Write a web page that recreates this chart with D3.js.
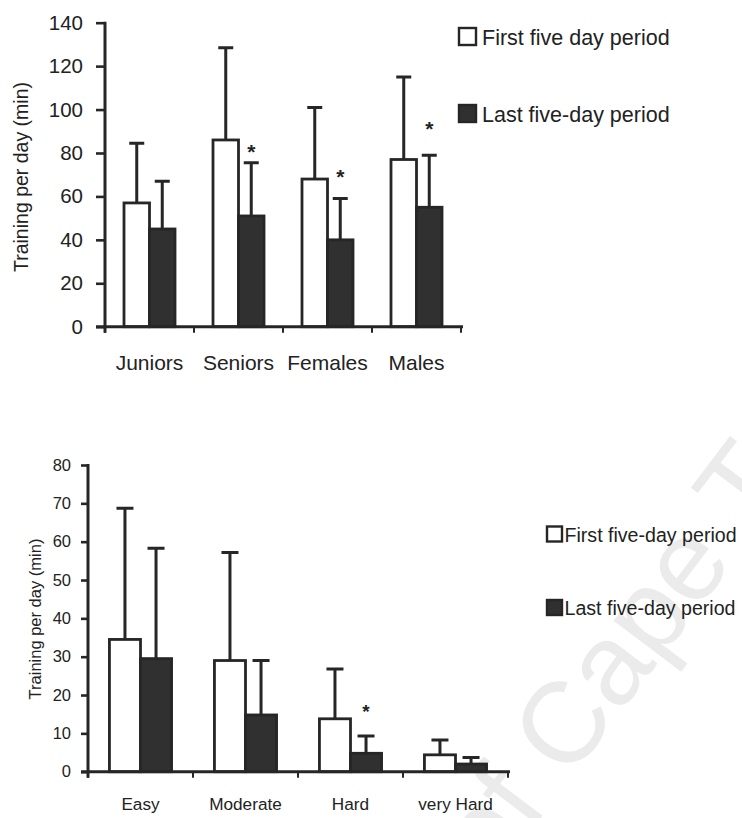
<!DOCTYPE html>
<html>
<head>
<meta charset="utf-8">
<script src="https://cdn.jsdelivr.net/npm/d3@7"></script>
<style>
  html, body { margin: 0; padding: 0; background: #fff; }
  svg { display: block; }
  text { font-family: "Liberation Sans", Arial, sans-serif; fill: #222; }
</style>
</head>
<body>
<svg id="chart" width="742" height="818"></svg>
<script>
// Panel A: training time per day by group (mean + SD)
const groups = ["Juniors", "Seniors", "Females", "Males"];
const groupFirst = [57, 86, 68, 77];
const groupFirstSD = [27.5, 42.5, 33, 38];
const groupLast = [45, 51, 40, 55];
const groupLastSD = [22, 24.5, 19, 24];
const groupSig = [null, 83, 71.5, 93.5];        // level of the "*" marker, null = none
const groupTicks = [0, 20, 40, 60, 80, 100, 120, 140];

// Panel B: training time per day by intensity (mean + SD)
const intensities = ["Easy", "Moderate", "Hard", "very Hard"];
const intensityFirst = [34.5, 29, 13.8, 4.4];
const intensityFirstSD = [34.2, 28.2, 13, 3.9];
const intensityLast = [29.5, 14.8, 4.8, 2.0];
const intensityLastSD = [28.8, 14.2, 4.5, 1.7];
const intensitySig = [null, null, 17, null];
const intensityTicks = [0, 10, 20, 30, 40, 50, 60, 70, 80];

const yTitle = "Training per day (min)";
const legendA = ["First five day period", "Last five-day period"];
const legendB = ["First five-day period", "Last five-day period"];
const periods = ["first", "last"];

const INK = "#262626";
const DARK = "#303030";

const svg = d3.select("#chart");

// faint background watermark
(function () {
  const g = svg.append("g")
    .attr("transform", "translate(492,883) rotate(-53)")
    .style("font-size", "115px");
  g.append("text").attr("text-anchor", "end").style("fill", "#ebebeb")
    .text("University ");
  g.append("text").attr("text-anchor", "start").style("fill", "#ebebeb")
    .text("of Cape Town");
})();

function panel(o) {
  const g = svg.append("g");
  const y = d3.scaleLinear().domain([0, o.max]).range([o.y0, o.y1]);
  const x = d3.scaleBand().domain(o.cats).range([o.x0, o.x1]);
  const sub = d3.scaleBand().domain(periods).range([0, x.bandwidth()])
    .paddingInner(0).paddingOuter(o.outerPad);

  const rows = o.cats.map((c, i) => ({
    cat: c,
    vals: [
      { key: "first", v: o.first[i], sd: o.firstSD[i] },
      { key: "last", v: o.last[i], sd: o.lastSD[i] }
    ],
    sig: o.sig[i]
  }));

  // bars
  const grp = g.selectAll("g.grp").data(rows).join("g")
    .attr("class", "grp")
    .attr("transform", d => `translate(${x(d.cat)},0)`);

  grp.selectAll("rect").data(d => d.vals).join("rect")
    .attr("x", d => sub(d.key))
    .attr("y", d => y(d.v))
    .attr("width", sub.bandwidth())
    .attr("height", d => y(0) - y(d.v))
    .attr("fill", d => d.key === "first" ? "#fff" : DARK)
    .attr("stroke", INK)
    .attr("stroke-width", 2.8);

  // upper error bars
  grp.selectAll("path.err").data(d => d.vals).join("path")
    .attr("class", "err")
    .attr("fill", "none")
    .attr("stroke", INK)
    .attr("stroke-width", 3)
    .attr("d", d => {
      const cx = sub(d.key) + sub.bandwidth() / 2;
      const top = y(d.v + d.sd);
      return `M${cx},${y(d.v)}V${top}M${cx - o.cap / 2},${top}H${cx + o.cap / 2}`;
    });

  // significance markers
  grp.filter(d => d.sig != null).append("text")
    .attr("x", sub("last") + sub.bandwidth() / 2)
    .attr("y", d => y(d.sig) + o.starSize * 0.58)
    .attr("text-anchor", "middle")
    .style("font-size", o.starSize + "px")
    .style("font-weight", "bold")
    .text("*");

  // axes
  const yAxis = d3.axisLeft(y).tickValues(o.ticks)
    .tickSize(o.tick).tickPadding(o.tickPad).tickSizeOuter(0);
  const ya = g.append("g").attr("transform", `translate(${o.x0},0)`).call(yAxis)
    .attr("font-size", o.tickFont).attr("font-family", null);
  ya.select(".domain").remove();
  ya.selectAll(".tick line").attr("stroke", INK).attr("stroke-width", 2.6);
  ya.selectAll(".tick text").style("font-size", o.tickFont + "px")
    .style("fill", "#222");

  g.append("line")
    .attr("x1", o.x0).attr("x2", o.x0)
    .attr("y1", y(o.max) - 1).attr("y2", y(0) + 6)
    .attr("stroke", INK).attr("stroke-width", 3);

  g.append("line")
    .attr("x1", o.x0 - o.tick).attr("x2", o.x1 + 2)
    .attr("y1", y(0)).attr("y2", y(0))
    .attr("stroke", INK).attr("stroke-width", 3);

  const bounds = o.cats.map(c => x(c)).concat([o.x1]);
  g.selectAll("line.xt").data(bounds).join("line")
    .attr("class", "xt")
    .attr("x1", d => d).attr("x2", d => d)
    .attr("y1", y(0)).attr("y2", y(0) + 6)
    .attr("stroke", INK).attr("stroke-width", 2);

  g.selectAll("text.cat").data(o.cats).join("text")
    .attr("class", "cat")
    .attr("x", d => x(d) + x.bandwidth() / 2)
    .attr("y", y(0) + o.labelDy)
    .attr("text-anchor", "middle")
    .style("font-size", o.catFont + "px")
    .text(d => d);

  g.append("text")
    .attr("transform", `translate(${o.titleX},${o.titleY}) rotate(-90)`)
    .attr("text-anchor", "middle")
    .attr("dy", "0.35em")
    .style("font-size", o.titleFont + "px")
    .text(yTitle);

  // legend
  const lg = g.append("g");
  o.legend.forEach((label, i) => {
    const ly = o.legY[i];
    lg.append("rect")
      .attr("x", o.legX).attr("y", ly - o.legBox)
      .attr("width", o.legBox).attr("height", o.legBox)
      .attr("fill", i === 0 ? "#fff" : DARK)
      .attr("stroke", INK).attr("stroke-width", 2.4);
    lg.append("text")
      .attr("x", o.legX + o.legBox + o.legGap).attr("y", ly)
      .style("font-size", o.legFont + "px")
      .text(label);
  });
}

panel({
  cats: groups, first: groupFirst, firstSD: groupFirstSD,
  last: groupLast, lastSD: groupLastSD, sig: groupSig, ticks: groupTicks,
  max: 140, y0: 326.7, y1: 22.7, x0: 105, x1: 461, outerPad: 0.745,
  cap: 15, tick: 9, tickPad: 13, tickFont: 20.5, catFont: 21, labelDy: 43,
  starSize: 21, titleX: 21, titleY: 177, titleFont: 19.5,
  legend: legendA, legX: 459, legY: [45, 122], legBox: 17, legGap: 6, legFont: 21.5
});

panel({
  cats: intensities, first: intensityFirst, firstSD: intensityFirstSD,
  last: intensityLast, lastSD: intensityLastSD, sig: intensitySig, ticks: intensityTicks,
  max: 80, y0: 771.7, y1: 465, x0: 88, x1: 508, outerPad: 0.69,
  cap: 17, tick: 7, tickPad: 10, tickFont: 16.5, catFont: 17.2, labelDy: 38,
  starSize: 19, titleX: 35, titleY: 619, titleFont: 16.5,
  legend: legendB, legX: 547, legY: [541.5, 615], legBox: 15, legGap: 2.5, legFont: 19.6
});
</script>
</body>
</html>
